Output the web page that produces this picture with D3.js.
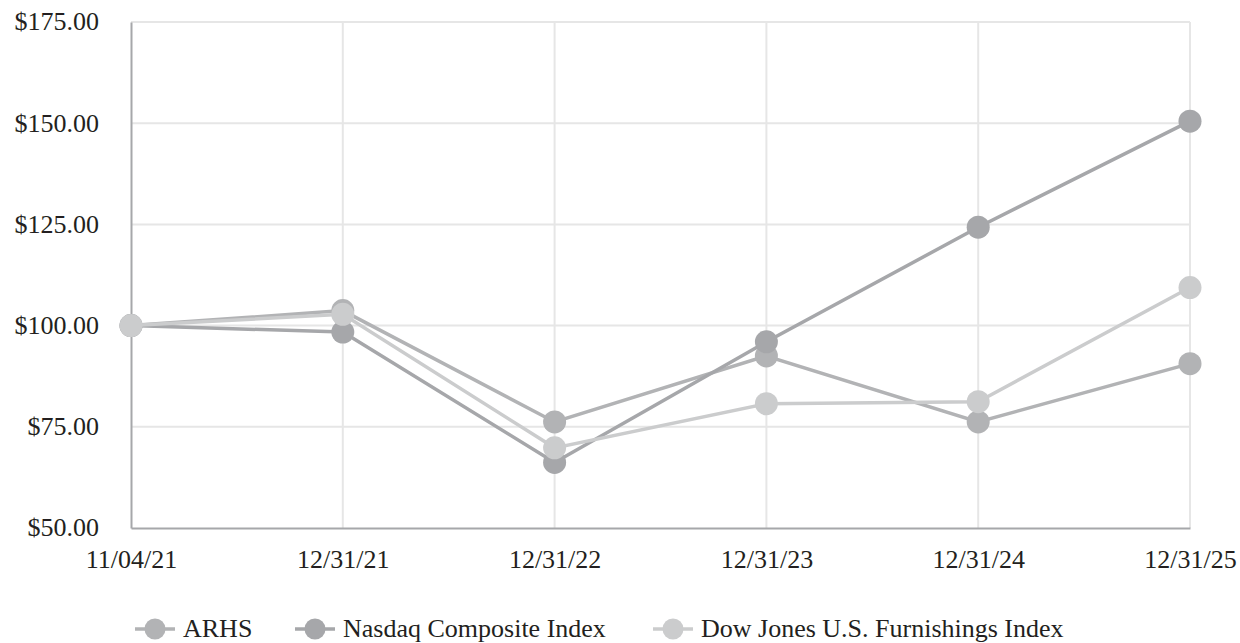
<!DOCTYPE html>
<html>
<head>
<meta charset="utf-8">
<script src="https://cdn.jsdelivr.net/npm/d3@7"></script>
<style>
  html, body { margin: 0; padding: 0; background: #fff; }
</style>
</head>
<body>
<svg id="chart" width="1240" height="643"></svg>
<script>
const dates = ['11/04/21', '12/31/21', '12/31/22', '12/31/23', '12/31/24', '12/31/25'];
const arhs = [100.0, 103.7, 76.2, 92.5, 76.2, 90.6];
const nasdaq = [100.0, 98.4, 66.2, 96.0, 124.3, 150.5];
const dowJones = [100.0, 102.8, 69.8, 80.7, 81.2, 109.4];
const yTicks = [50, 75, 100, 125, 150, 175];

const series = [
  { name: 'ARHS', values: arhs, color: '#b2b3b5' },
  { name: 'Nasdaq Composite Index', values: nasdaq, color: '#a6a7aa' },
  { name: 'Dow Jones U.S. Furnishings Index', values: dowJones, color: '#cbcccd' }
];

const margin = { top: 22, right: 50, bottom: 115, left: 131 };
const W = 1240, H = 643;
const w = W - margin.left - margin.right;
const h = H - margin.top - margin.bottom;

const styleText = sel => sel
  .style('font-family', '"Liberation Serif"')
  .style('font-size', '26px')
  .attr('fill', '#231f20');

const svg = d3.select('#chart');
const g = svg.append('g').attr('transform', `translate(${margin.left},${margin.top})`);

const x = d3.scalePoint().domain(dates).range([0, w]);
const y = d3.scaleLinear().domain([50, 175]).range([h, 0]);

// grid
g.append('g')
  .selectAll('line.h')
  .data(yTicks.slice(1))
  .enter()
  .append('line')
  .attr('x1', 0)
  .attr('x2', w)
  .attr('y1', d => y(d))
  .attr('y2', d => y(d))
  .attr('stroke', '#e6e6e6')
  .attr('stroke-width', 2);

g.append('g')
  .selectAll('line.v')
  .data(dates.slice(1))
  .enter()
  .append('line')
  .attr('x1', d => x(d))
  .attr('x2', d => x(d))
  .attr('y1', 0)
  .attr('y2', h)
  .attr('stroke', '#e6e6e6')
  .attr('stroke-width', 2);

// axes
const yAxis = g.append('g')
  .call(d3.axisLeft(y).tickValues(yTicks).tickSize(0).tickPadding(32).tickFormat(d => '$' + d3.format('.2f')(d)));
yAxis.select('.domain').attr('stroke', '#a6a7aa').attr('stroke-width', 2);
yAxis.selectAll('text').call(styleText).attr('dy', '0.3em');

const xAxis = g.append('g')
  .attr('transform', `translate(0,${h})`)
  .call(d3.axisBottom(x).tickSize(0).tickPadding(22));
xAxis.select('.domain').attr('stroke', '#a6a7aa').attr('stroke-width', 2);
xAxis.selectAll('text').call(styleText);

// lines
const line = d3.line().x((d, i) => x(dates[i])).y(d => y(d));

series.forEach(s => {
  g.append('path')
    .datum(s.values)
    .attr('d', line)
    .attr('fill', 'none')
    .attr('stroke', s.color)
    .attr('stroke-width', 3.5);
  g.append('g')
    .selectAll('circle')
    .data(s.values)
    .enter()
    .append('circle')
    .attr('cx', (d, i) => x(dates[i]))
    .attr('cy', d => y(d))
    .attr('r', 11.5)
    .attr('fill', s.color);
});

// legend
const legendX = [135, 295, 653];
const legend = svg.append('g').attr('transform', 'translate(0,629)');
series.forEach((s, i) => {
  const lg = legend.append('g').attr('transform', `translate(${legendX[i]},0)`);
  lg.append('line').attr('x1', 0).attr('x2', 40).attr('y1', 0).attr('y2', 0)
    .attr('stroke', s.color).attr('stroke-width', 3.5);
  lg.append('circle').attr('cx', 20).attr('cy', 0).attr('r', 10.5).attr('fill', s.color);
  lg.append('text').attr('x', 48).attr('y', 8)
    .call(styleText).text(s.name);
});
</script>
</body>
</html>
